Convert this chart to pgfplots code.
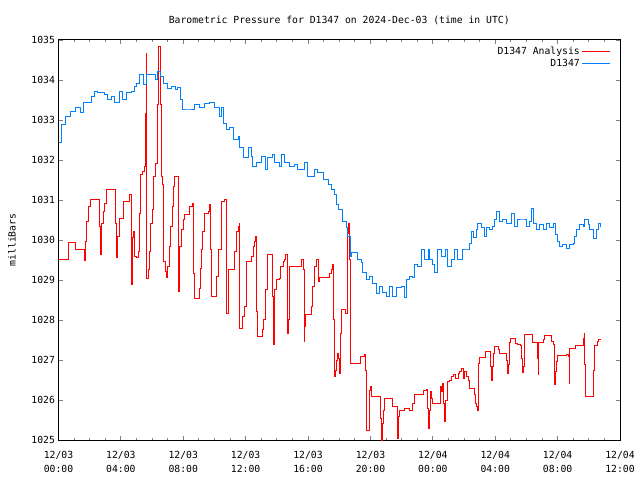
\documentclass[border=0pt]{standalone}
\usepackage{pgfplots}
\pgfplotsset{compat=1.18}
\usepackage{fontspec}
\setmainfont{DejaVu Sans Mono}
\definecolor{obsblue}{RGB}{0,128,255}
\definecolor{anared}{RGB}{255,0,0}
\begin{document}
\begin{tikzpicture}
\begin{axis}[
  at={(0,0)}, anchor=south west,
  scale only axis, width=561.5bp, height=400bp,
  xmin=0, xmax=36, ymin=1025, ymax=1035,
  xtick={0,4,...,36},
  xticklabels={{12/03\\00:00},{12/03\\04:00},{12/03\\08:00},{12/03\\12:00},{12/03\\16:00},{12/03\\20:00},{12/04\\00:00},{12/04\\04:00},{12/04\\08:00},{12/04\\12:00}},
  minor x tick num=3,
  ytick={1025,1026,...,1035},
  tick align=inside, tick pos=both,
  major tick length=4.5bp, minor tick length=2.5bp,
  tick style={line width=0.8bp},
  axis line style={line width=1bp},
  font=\fontsize{9.8}{12}\selectfont,
  /pgf/number format/assume math mode=true,
  yticklabel style={/pgf/number format/1000 sep={}},
  xticklabel style={align=center, yshift=-8bp, font=\fontsize{9.8}{14}\selectfont},
  title={Barometric Pressure for D1347 on 2024-Dec-03 (time in UTC)},
  title style={at={(0.5,1)}, anchor=center, yshift=14bp},
  ylabel={milliBars},
  every axis y label/.style={at={(rel axis cs:0,0.5)}, xshift=-46.5bp, rotate=90, anchor=center},
  legend style={at={(rel axis cs:1,1)}, anchor=north east, xshift=-6bp, yshift=-3bp,
    draw=none, fill=none, cells={anchor=east}, legend plot pos=right, row sep=-1bp},
  legend image code/.code={\draw[#1] (8bp,0bp) -- (36bp,0bp);},
]
% D1347 Analysis
\addplot[const plot, draw=anared, color=anared, line width=1bp] coordinates {
(0,1029.50)(0.67,1029.93)(1.06,1029.77)(1.65,1029.48)(1.74,1029.96)(1.81,1030.46)(1.91,1030.83)(2.02,1031.00)
(2.62,1030.33)(2.71,1029.63)(2.77,1030.42)(2.87,1030.71)(2.98,1030.92)(3.09,1031.25)(3.67,1030.42)(3.73,1029.55)
(3.79,1030.08)(3.90,1030.54)(4.15,1030.96)(4.52,1031.04)(4.58,1031.13)(4.65,1030.68)(4.69,1028.88)(4.73,1030.05)
(4.82,1030.21)(4.90,1029.58)(5.01,1029.55)(5.12,1029.71)(5.18,1030.67)(5.27,1031.63)(5.37,1031.71)(5.54,1031.83)
(5.59,1033.17)(5.63,1034.67)(5.67,1029.04)(5.76,1029.25)(5.82,1029.71)(5.91,1030.42)(6.01,1030.75)(6.08,1031.08)
(6.12,1031.58)(6.19,1031.92)(6.33,1033.38)(6.40,1034.83)(6.51,1033.38)(6.58,1031.58)(6.65,1031.38)(6.72,1029.46)
(6.83,1029.33)(6.89,1029.21)(6.94,1029.07)(7.00,1029.33)(7.10,1029.83)(7.21,1030.33)(7.29,1030.83)(7.36,1031.33)
(7.42,1031.58)(7.68,1030.17)(7.72,1028.71)(7.77,1029.83)(7.90,1030.25)(8.00,1030.50)(8.11,1030.63)(8.43,1030.83)
(8.58,1030.92)(8.64,1029.17)(8.71,1028.54)(9.01,1028.79)(9.12,1029.29)(9.18,1029.75)(9.24,1030.21)(9.35,1030.46)
(9.39,1030.67)(9.60,1030.71)(9.67,1030.88)(9.76,1029.75)(9.82,1028.58)(10.10,1029.08)(10.24,1029.75)(10.46,1030.96)
(10.67,1031.00)(10.74,1028.17)(10.88,1029.25)(11.31,1029.71)(11.42,1030.21)(11.52,1030.33)(11.59,1030.42)(11.63,1027.79)
(11.78,1028.08)(11.91,1028.33)(12.06,1029.46)(12.38,1029.58)(12.49,1029.83)(12.55,1029.96)(12.64,1030.08)(12.71,1028.21)
(12.77,1027.58)(13.09,1027.75)(13.17,1028.00)(13.30,1028.75)(13.41,1029.63)(13.73,1028.58)(13.77,1027.38)(13.83,1028.08)
(13.88,1028.75)(13.99,1029.00)(14.15,1029.04)(14.24,1029.33)(14.41,1029.46)(14.52,1029.50)(14.58,1029.63)(14.67,1027.67)
(14.73,1028.00)(14.80,1029.33)(15.59,1029.50)(15.69,1029.25)(15.74,1027.46)(15.80,1027.83)(15.85,1028.13)(16.19,1028.25)
(16.23,1028.33)(16.30,1028.83)(16.44,1029.33)(16.55,1029.50)(16.65,1028.96)(16.76,1029.07)(17.40,1029.17)(17.51,1029.25)
(17.58,1029.38)(17.62,1028.00)(17.68,1026.58)(17.74,1026.75)(17.83,1027.00)(17.90,1027.17)(17.98,1027.04)(18.04,1026.67)
(18.11,1027.67)(18.15,1028.25)(18.37,1028.17)(18.50,1030.17)(18.58,1030.42)(18.64,1029.50)(18.69,1027.75)(18.73,1026.92)
(19.39,1027.08)(19.65,1027.13)(19.71,1026.75)(19.76,1025.25)(19.92,1026.25)(20.01,1026.33)(20.08,1026.08)(20.65,1025.54)
(20.72,1025.00)(20.76,1025.42)(20.82,1025.75)(20.89,1026.04)(21.42,1025.83)(21.72,1025.50)(21.76,1025.04)(21.83,1025.58)
(21.89,1025.75)(22.17,1025.78)(22.49,1025.75)(22.71,1025.92)(22.81,1026.14)(23.38,1026.25)(23.60,1026.27)(23.67,1025.79)
(23.71,1025.29)(23.77,1025.75)(23.86,1026.21)(23.92,1026.04)(23.99,1025.92)(24.50,1026.33)(24.56,1026.21)(24.63,1026.42)
(24.71,1025.92)(24.77,1025.46)(24.84,1026.00)(24.92,1026.46)(25.05,1026.50)(25.21,1026.58)(25.35,1026.65)(25.48,1026.54)
(25.63,1026.67)(25.74,1026.71)(25.85,1026.79)(25.95,1026.54)(26.06,1026.71)(26.17,1026.58)(26.27,1026.50)(26.33,1026.29)
(26.70,1026.13)(26.76,1025.92)(26.81,1025.83)(26.85,1025.75)(26.90,1026.29)(26.94,1026.92)(27.02,1027.07)(27.40,1027.21)
(27.72,1026.83)(27.77,1026.50)(27.83,1026.83)(27.87,1027.17)(27.98,1027.33)(28.19,1027.25)(28.26,1027.15)(28.73,1027.00)
(28.77,1026.67)(28.83,1026.88)(28.90,1027.21)(28.94,1027.43)(28.99,1027.54)(29.33,1027.42)(29.41,1027.38)(29.63,1027.35)
(29.69,1027.04)(29.73,1026.68)(29.80,1026.83)(29.86,1027.10)(29.90,1027.63)(30.40,1027.43)(30.72,1027.04)(30.76,1026.63)
(30.80,1027.43)(31.08,1027.52)(31.19,1027.60)(31.62,1027.46)(31.72,1027.38)(31.78,1026.38)(31.87,1026.71)(31.93,1026.96)
(32.00,1027.10)(32.58,1027.13)(32.68,1027.08)(32.75,1026.42)(32.79,1027.29)(33.17,1027.37)(33.64,1027.54)(33.70,1027.65)
(33.75,1026.88)(33.80,1026.10)(34.28,1026.73)(34.35,1027.37)(34.56,1027.46)(34.65,1027.52)(34.76,1027.52)
};
\addlegendentry{D1347 Analysis}
% D1347 observed
\addplot[const plot, draw=obsblue, color=obsblue, line width=1bp] coordinates {
(0.00,1032.43)(0.21,1032.88)(0.42,1033.08)(0.74,1033.21)(1.06,1033.30)(1.38,1033.18)(1.59,1033.43)(2.13,1033.58)
(2.34,1033.71)(2.53,1033.68)(2.98,1033.63)(3.17,1033.50)(3.41,1033.58)(3.62,1033.43)(3.94,1033.71)(4.13,1033.50)
(4.37,1033.68)(4.69,1033.71)(4.90,1033.83)(5.01,1033.92)(5.22,1034.13)(5.42,1033.88)(5.65,1034.13)(5.97,1034.13)
(6.19,1034.00)(6.36,1034.21)(6.51,1034.08)(6.70,1033.92)(7.02,1033.79)(7.26,1033.83)(7.47,1033.75)(7.66,1033.80)
(7.79,1033.50)(7.98,1033.25)(8.30,1033.25)(8.75,1033.38)(9.07,1033.30)(9.39,1033.40)(9.71,1033.43)(10.03,1033.30)
(10.35,1033.08)(10.46,1033.30)(10.56,1032.92)(10.78,1032.75)(10.99,1032.80)(11.19,1032.50)(11.51,1032.58)(11.63,1032.30)
(11.83,1032.05)(12.15,1032.30)(12.38,1032.08)(12.47,1031.83)(12.71,1031.93)(13.03,1032.08)(13.24,1031.75)(13.43,1032.05)
(13.75,1032.13)(13.88,1031.93)(14.20,1031.83)(14.31,1032.13)(14.52,1031.93)(14.84,1031.83)(15.16,1031.88)(15.35,1031.75)
(15.80,1031.93)(15.99,1031.58)(16.44,1031.75)(16.63,1031.68)(16.96,1031.50)(17.28,1031.38)(17.51,1031.25)(17.72,1031.13)
(17.83,1030.88)(17.98,1030.75)(18.24,1030.46)(18.47,1030.30)(18.56,1030.08)(18.69,1029.58)(18.79,1029.68)(19.12,1029.68)
(19.20,1029.50)(19.44,1029.43)(19.52,1029.18)(19.76,1029.00)(19.97,1029.08)(20.16,1028.92)(20.40,1028.67)(20.61,1028.83)
(20.80,1028.68)(21.04,1028.58)(21.25,1028.83)(21.44,1028.58)(21.68,1028.80)(22.00,1028.83)(22.21,1028.55)(22.32,1029.00)
(22.53,1029.08)(22.72,1029.05)(22.85,1029.38)(23.04,1029.33)(23.28,1029.75)(23.49,1029.50)(23.69,1029.75)(23.81,1029.50)
(24.01,1029.38)(24.13,1029.18)(24.33,1029.75)(24.56,1029.58)(24.78,1029.75)(24.97,1029.33)(25.21,1029.50)(25.42,1029.75)
(25.61,1029.50)(25.93,1029.75)(26.17,1029.75)(26.38,1029.92)(26.49,1030.21)(26.59,1030.05)(26.81,1030.25)(26.89,1030.42)
(27.13,1030.30)(27.34,1030.08)(27.45,1030.30)(27.66,1030.25)(27.85,1030.33)(27.98,1030.50)(28.09,1030.71)(28.30,1030.46)
(28.49,1030.50)(28.73,1030.42)(29.05,1030.67)(29.26,1030.33)(29.46,1030.50)(29.78,1030.50)(30.01,1030.33)(30.22,1030.46)
(30.33,1030.79)(30.44,1030.42)(30.65,1030.25)(30.87,1030.38)(31.08,1030.25)(31.29,1030.42)(31.51,1030.30)(31.72,1030.42)
(31.89,1030.13)(31.97,1029.96)(32.15,1029.83)(32.34,1029.88)(32.58,1029.79)(32.79,1029.88)(33.00,1029.92)(33.11,1030.08)
(33.22,1030.25)(33.43,1030.38)(33.64,1030.33)(33.75,1030.50)(33.96,1030.38)(34.07,1030.25)(34.29,1030.04)(34.51,1030.25)
(34.61,1030.42)(34.76,1030.33)
};
\addlegendentry{D1347}
\end{axis}
\useasboundingbox (-58.5bp,-40bp) rectangle (581.5bp,440bp);
\end{tikzpicture}
\end{document}
